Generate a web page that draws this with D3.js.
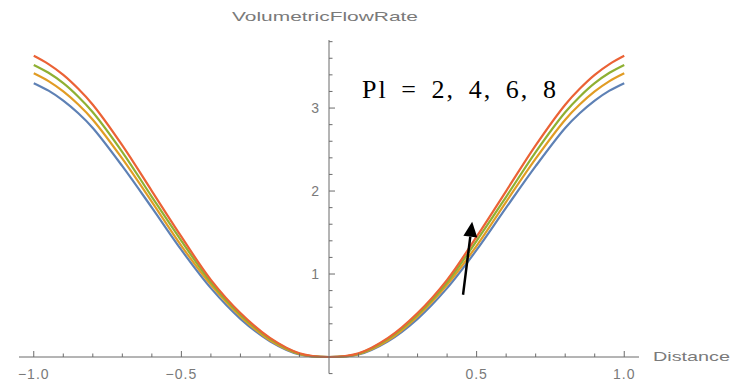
<!DOCTYPE html>
<html>
<head>
<meta charset="utf-8">
<script src="https://cdn.jsdelivr.net/npm/d3@7"></script>
<style>
  html, body { margin: 0; padding: 0; background: #fff; }
  svg { display: block; }
</style>
</head>
<body>
<svg id="chart" width="733" height="388"></svg>
<script>
// Sampled distance positions (denser near the walls where the curves flatten)
const distance = [-1.0, -0.95, -0.9, -0.85, -0.8, -0.7, -0.6, -0.5, -0.4, -0.3, -0.2, -0.1, 0.0,
                   0.1, 0.2, 0.3, 0.4, 0.5, 0.6, 0.7, 0.8, 0.85, 0.9, 0.95, 1.0];

// Volumetric flow rate for each Pl value
const flowPl2 = [3.30, 3.21, 3.09, 2.94, 2.76, 2.30, 1.80, 1.29, 0.83, 0.46, 0.19, 0.030, 0,
                 0.030, 0.19, 0.46, 0.83, 1.29, 1.80, 2.30, 2.76, 2.94, 3.09, 3.21, 3.30];
const flowPl4 = [3.42, 3.325, 3.20, 3.045, 2.86, 2.39, 1.87, 1.34, 0.87, 0.49, 0.20, 0.035, 0,
                 0.035, 0.20, 0.49, 0.87, 1.34, 1.87, 2.39, 2.86, 3.045, 3.20, 3.325, 3.42];
const flowPl6 = [3.52, 3.425, 3.30, 3.14, 2.95, 2.47, 1.93, 1.40, 0.90, 0.51, 0.22, 0.040, 0,
                 0.040, 0.22, 0.51, 0.90, 1.40, 1.93, 2.47, 2.95, 3.14, 3.30, 3.425, 3.52];
const flowPl8 = [3.63, 3.53, 3.40, 3.235, 3.04, 2.55, 2.00, 1.45, 0.93, 0.53, 0.23, 0.045, 0,
                 0.045, 0.23, 0.53, 0.93, 1.45, 2.00, 2.55, 3.04, 3.235, 3.40, 3.53, 3.63];

const seriesNames = ["Pl = 2", "Pl = 4", "Pl = 6", "Pl = 8"];
const seriesValues = [flowPl2, flowPl4, flowPl6, flowPl8];
const seriesColors = ["#5e81b5", "#e19c24", "#8fb032", "#eb6235"];

const xMajorTicks = [-1.0, -0.5, 0.5, 1.0];
const xTickLabels = ["\u22121.0", "\u22120.5", "0.5", "1.0"];
const yMajorTicks = [1, 2, 3];
const yTickLabels = ["1", "2", "3"];

const annotation = "Pl = 2, 4, 6, 8";
const xTitle = "Distance";
const yTitle = "VolumetricFlowRate";

const svg = d3.select("#chart");
const x = d3.scaleLinear().domain([-1.05, 1.05]).range([19, 639]);
const y = d3.scaleLinear().domain([-0.2, 3.82]).range([373.6, 40]);

const axisColor = "#6b6b6b";
const labelColor = "#7a7a7a";

// Curves
const line = d3.line()
  .x(d => x(d[0]))
  .y(d => y(d[1]))
  .curve(d3.curveCatmullRom.alpha(0.5));

seriesValues.forEach((vals, i) => {
  svg.append("path")
    .datum(distance.map((d, j) => [d, vals[j]]))
    .attr("fill", "none")
    .attr("stroke", seriesColors[i])
    .attr("stroke-width", 2.2)
    .attr("stroke-linejoin", "round")
    .attr("d", line);
});

// X axis: minor ticks every 0.1, major ticks every 0.5
const xAxisG = svg.append("g").attr("transform", `translate(0,${y(0)})`);
xAxisG.append("line")
  .attr("x1", x.range()[0]).attr("x2", x.range()[1])
  .attr("stroke", axisColor).attr("stroke-width", 1);
const xMinor = d3.range(-10, 11).map(k => k / 10);
xAxisG.selectAll("line.minor").data(xMinor.filter(v => Math.abs(v) > 1e-9)).join("line")
  .attr("class", "minor")
  .attr("x1", d => x(d)).attr("x2", d => x(d))
  .attr("y1", 0).attr("y2", d => xMajorTicks.some(t => Math.abs(t - d) < 1e-9) ? -6 : -3.5)
  .attr("stroke", axisColor).attr("stroke-width", 1);
xAxisG.selectAll("text").data(xMajorTicks).join("text")
  .attr("x", d => x(d)).attr("y", 22)
  .attr("text-anchor", "middle")
  .attr("font-family", "Liberation Sans, Arial, sans-serif")
  .attr("font-size", 14)
  .attr("letter-spacing", 1)
  .attr("fill", labelColor)
  .text((d, i) => xTickLabels[i]);

// Y axis: minor ticks every 0.2, major ticks at integers
const yAxisG = svg.append("g").attr("transform", `translate(${x(0)},0)`);
yAxisG.append("line")
  .attr("y1", y.range()[0]).attr("y2", y.range()[1])
  .attr("stroke", axisColor).attr("stroke-width", 1);
const yMinor = d3.range(-1, 20).map(k => k / 5);
yAxisG.selectAll("line.minor").data(yMinor.filter(v => Math.abs(v) > 1e-9)).join("line")
  .attr("class", "minor")
  .attr("y1", d => y(d)).attr("y2", d => y(d))
  .attr("x1", 0).attr("x2", d => yMajorTicks.includes(Math.round(d * 5) / 5) ? 6 : 3.5)
  .attr("stroke", axisColor).attr("stroke-width", 1);
yAxisG.selectAll("text").data(yMajorTicks).join("text")
  .attr("x", -10).attr("y", d => y(d))
  .attr("dy", "0.36em")
  .attr("text-anchor", "end")
  .attr("font-family", "Liberation Sans, Arial, sans-serif")
  .attr("font-size", 14)
  .attr("fill", labelColor)
  .text((d, i) => yTickLabels[i]);

// Axis titles
svg.append("text")
  .attr("x", 653).attr("y", y(0) + 4)
  .attr("font-family", "Liberation Sans, Arial, sans-serif")
  .attr("font-size", 13)
  .attr("fill", labelColor)
  .attr("textLength", 77).attr("lengthAdjust", "spacingAndGlyphs")
  .text(xTitle);

svg.append("text")
  .attr("x", 232).attr("y", 21)
  .attr("font-family", "Liberation Sans, Arial, sans-serif")
  .attr("font-size", 13)
  .attr("fill", labelColor)
  .attr("textLength", 186).attr("lengthAdjust", "spacingAndGlyphs")
  .text(yTitle);

// Parameter annotation: spread letters and word gaps so it spans its target width
const note = svg.append("text")
  .attr("x", 362).attr("y", 98)
  .attr("font-family", "Liberation Serif, DejaVu Serif, serif")
  .attr("font-size", 26)
  .attr("letter-spacing", 2)
  .attr("fill", "#000")
  .text(annotation);
const noteWidth = note.node().getComputedTextLength();
const gaps = (annotation.match(/ /g) || []).length;
note.attr("word-spacing", Math.max(0, (196 - noteWidth) / gaps));

// Arrow showing the direction of increasing Pl
const arrowFrom = [0.454, 0.75];
const arrowTo = [0.485, 1.63];
const ax0 = x(arrowFrom[0]), ay0 = y(arrowFrom[1]);
const ax1 = x(arrowTo[0]), ay1 = y(arrowTo[1]);
const ang = Math.atan2(ay1 - ay0, ax1 - ax0);
const headLen = 15, headHalf = 7;
const bx = ax1 - headLen * Math.cos(ang), by = ay1 - headLen * Math.sin(ang);
svg.append("line")
  .attr("x1", ax0).attr("y1", ay0).attr("x2", bx).attr("y2", by)
  .attr("stroke", "#000").attr("stroke-width", 2.5);
svg.append("path")
  .attr("d", d3.line()([
    [ax1, ay1],
    [bx + headHalf * Math.sin(ang), by - headHalf * Math.cos(ang)],
    [bx - headHalf * Math.sin(ang), by + headHalf * Math.cos(ang)]
  ]) + "Z")
  .attr("fill", "#000");
</script>
</body>
</html>
